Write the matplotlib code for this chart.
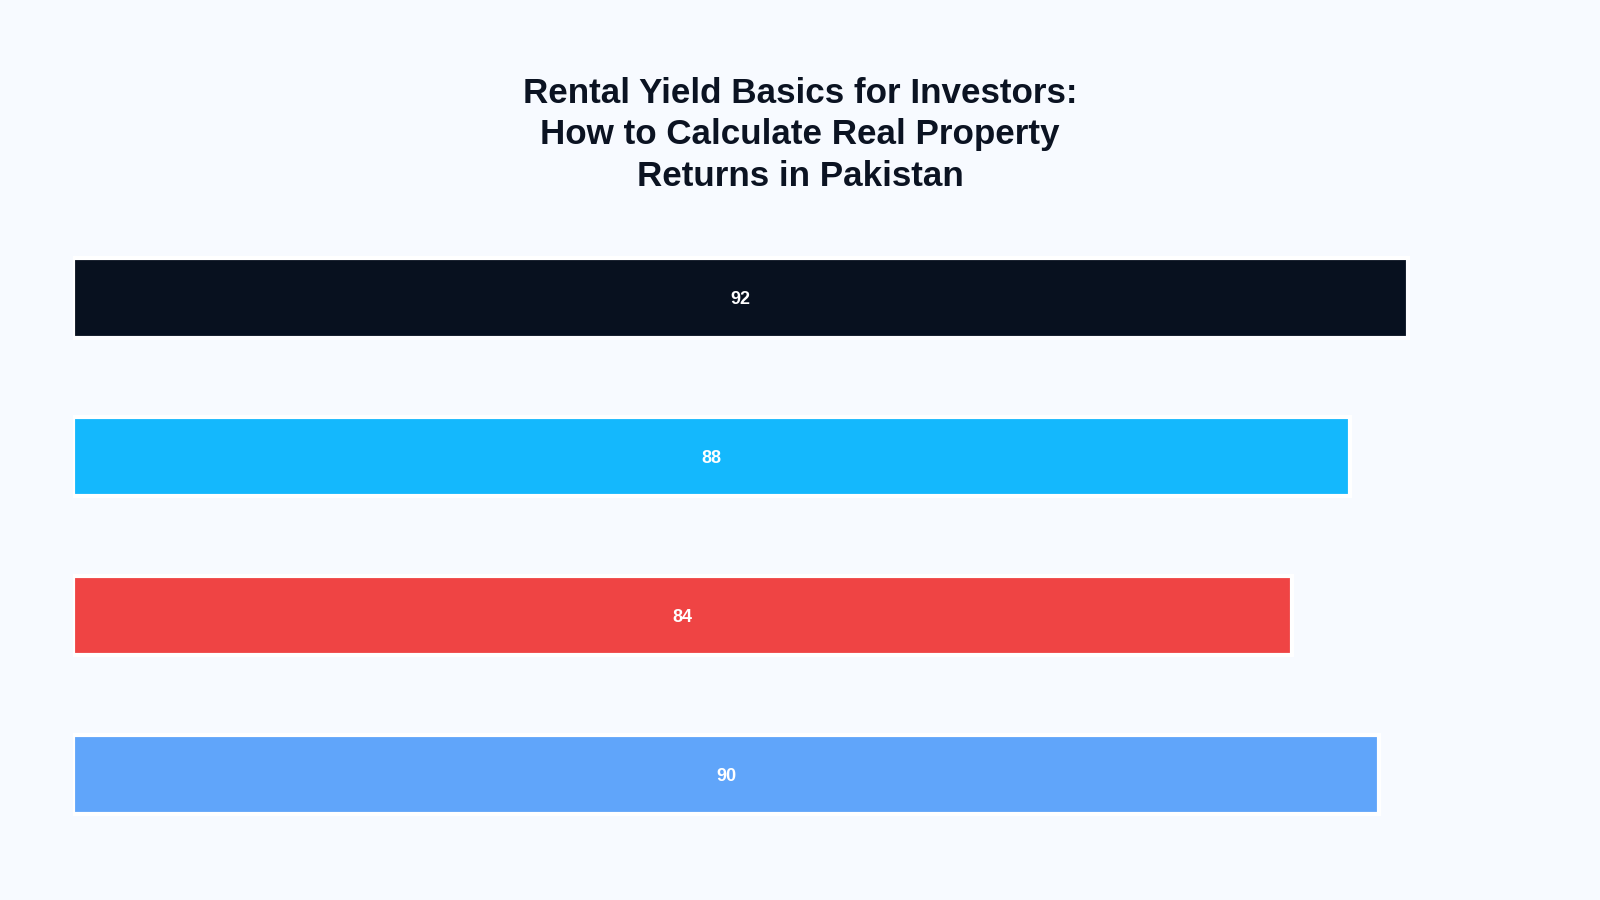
import matplotlib
matplotlib.use("Agg")
import matplotlib.pyplot as plt

categories = ["A", "B", "C", "D"]
values = [92, 88, 84, 90]
colors = ["#08111f", "#14b8fd", "#ef4444", "#60a5fa"]
title = "Rental Yield Basics for Investors:\nHow to Calculate Real Property\nReturns in Pakistan"

bg = "#f7faff"
plt.rcParams["font.family"] = ["Liberation Sans", "DejaVu Sans"]

fig = plt.figure(figsize=(16, 9), dpi=100, facecolor=bg)
ax = fig.add_axes([72/1568, 1 - 837/882, (1508 - 72)/1568, (837 - 214)/882])
ax.set_facecolor(bg)

ypos = list(range(len(categories)))
ax.barh(ypos, values, height=0.5, color=colors, edgecolor="white", linewidth=3)
for y, v in zip(ypos, values):
    ax.text(v / 2, y, f"{v}", ha="center", va="center_baseline", color="white",
            fontsize=13, fontweight="bold")

ax.set_xlim(0, 101.0)
ax.set_ylim(len(categories) - 0.5, -0.5)
ax.axis("off")

fig.text(784/1568, 1 - 132/882, title, ha="center", va="center",
         fontsize=25.2, fontweight="bold", color="#0b1322", linespacing=1.33)

fig.savefig("out.png", dpi=100, facecolor=bg)
